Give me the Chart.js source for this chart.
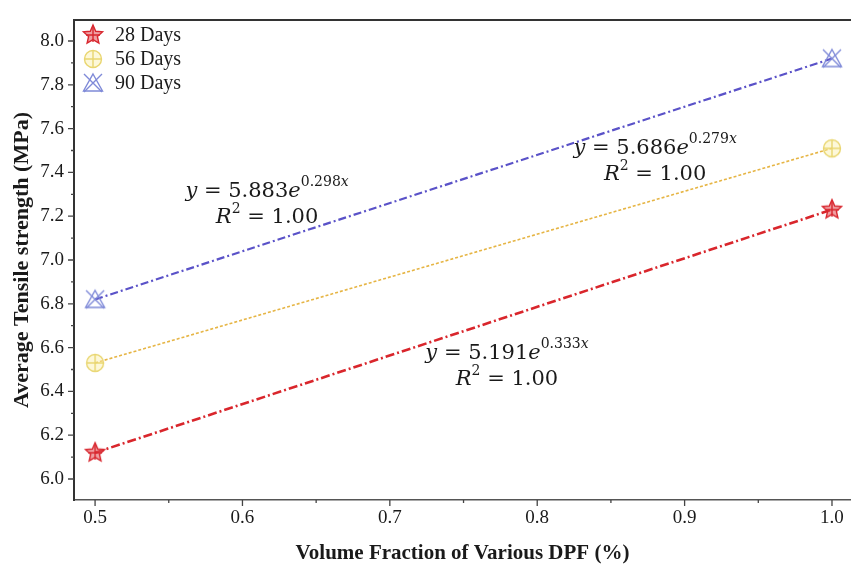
<!DOCTYPE html>
<html>
<head>
<meta charset="utf-8">
<script src="https://cdn.jsdelivr.net/npm/chart.js@4/dist/chart.umd.min.js"></script>
<style>
  html, body { margin: 0; padding: 0; background: #fff; overflow: hidden; }
  #wrap { width: 851px; height: 571px; position: relative; }
</style>
</head>
<body>
<div id="wrap"><canvas id="tensile-chart"></canvas></div>
<script>
// Volume fraction of DPF (x) and average tensile strength (MPa) per curing age
const fractions = [0.5, 1.0];
const days28 = [6.12, 7.23];
const days56 = [6.53, 7.51];
const days90 = [6.82, 7.92];

const seriesNames = ['28 Days', '56 Days', '90 Days'];
const xTickValues = [0.5, 0.6, 0.7, 0.8, 0.9, 1.0];
const yTickValues = [6.0, 6.2, 6.4, 6.6, 6.8, 7.0, 7.2, 7.4, 7.6, 7.8, 8.0];

// Exponential fit per series: coefficient, exponent, R²
const fitCoef = ['5.191', '5.686', '5.883'];
const fitExp = ['0.333', '0.279', '0.298'];
const fitR2 = ['1.00', '1.00', '1.00'];

const SERIF = '"Liberation Serif", "Times New Roman", serif';
const MATH = '"DejaVu Serif", serif';

// Marker glyphs drawn once into small canvases
function makeMarker(kind) {
  const s = 24, c = document.createElement('canvas');
  c.width = s; c.height = s;
  const g = c.getContext('2d');
  const m = s / 2;
  g.lineWidth = 1.4;
  if (kind === 'star') {
    g.strokeStyle = '#d8262e';
    g.fillStyle = 'rgba(226, 80, 86, 0.55)';
    g.beginPath();
    for (let i = 0; i < 10; i++) {
      const r = i % 2 === 0 ? 10 : 4.6;
      const a = -Math.PI / 2 + i * Math.PI / 5;
      g.lineTo(m + r * Math.cos(a), m + r * Math.sin(a));
    }
    g.closePath();
    g.fill(); g.stroke();
    g.beginPath();
    g.moveTo(m - 7, m); g.lineTo(m + 7, m);
    g.moveTo(m, m - 8); g.lineTo(m, m + 7);
    g.stroke();
  } else if (kind === 'circle') {
    g.strokeStyle = '#e9d670';
    g.fillStyle = 'rgba(250, 240, 170, 0.45)';
    g.beginPath(); g.arc(m, m, 8.5, 0, Math.PI * 2); g.fill(); g.stroke();
    g.beginPath();
    g.moveTo(m - 8.5, m); g.lineTo(m + 8.5, m);
    g.moveTo(m, m - 8.5); g.lineTo(m, m + 8.5);
    g.stroke();
  } else {
    g.strokeStyle = '#7f8ad8';
    g.beginPath();
    g.moveTo(m, m - 9); g.lineTo(m + 9.5, m + 8); g.lineTo(m - 9.5, m + 8); g.closePath();
    g.stroke();
    g.beginPath();
    g.moveTo(m - 9, m - 9); g.lineTo(m + 9, m + 9);
    g.moveTo(m + 9, m - 9); g.lineTo(m - 9, m + 9);
    g.stroke();
  }
  return c;
}
const markers = [makeMarker('star'), makeMarker('circle'), makeMarker('triangle')];

const lineColors = ['#d9262c', '#e6b545', '#5a52c8'];
const lineDashes = [[9, 3, 2, 3], [3, 2], [8, 3, 2, 3]];
const lineWidths = [2.6, 1.6, 2.2];

const dataSets = [days28, days56, days90].map((vals, i) => ({
  label: seriesNames[i],
  data: fractions.map((x, j) => ({ x, y: vals[j] })),
  borderColor: lineColors[i],
  borderDash: lineDashes[i],
  borderWidth: lineWidths[i],
  pointStyle: markers[i],
  pointRadius: 10,
  tension: 0,
  fill: false,
  clip: false
}));

// Where each equation block sits (data units, centre of first line)
const eqX = [0.7795, 0.880, 0.6167];
const eqY = [6.571, 7.507, 7.311];

function drawEquation(ctx, cx, cy, coef, exp, r2) {
  const big = '21px ' + MATH, bigI = 'italic 21px ' + MATH;
  const sup = '14px ' + MATH, supI = 'italic 14px ' + MATH;
  const line1 = [[bigI, 'y', 0], [big, ' = ' + coef, 0], [bigI, 'e', 0], [sup, exp, -10], [supI, 'x', -10]];
  const line2 = [[bigI, 'R', 0], [sup, '2', -9], [big, ' = ' + r2, 0]];
  const drawLine = (parts, midY) => {
    let w = 0;
    parts.forEach(p => { ctx.font = p[0]; w += ctx.measureText(p[1]).width; });
    let x = cx - w / 2;
    parts.forEach(p => {
      ctx.font = p[0];
      ctx.fillText(p[1], x, midY + p[2]);
      x += ctx.measureText(p[1]).width;
    });
  };
  ctx.fillStyle = '#1a1a1a';
  ctx.textBaseline = 'middle';
  ctx.textAlign = 'left';
  drawLine(line1, cy);
  drawLine(line2, cy + 26);
}

const decorations = {
  id: 'decorations',
  afterDraw(chart) {
    const { ctx, chartArea: a, scales } = chart;
    const xs = scales.x, ys = scales.y;
    ctx.save();
    // top frame line
    ctx.strokeStyle = '#333';
    ctx.lineWidth = 2;
    ctx.beginPath(); ctx.moveTo(a.left, a.top); ctx.lineTo(chart.width, a.top); ctx.stroke();

    // major and minor tick marks
    ctx.lineWidth = 1.3;
    ctx.strokeStyle = '#444';
    ctx.beginPath();
    yTickValues.forEach((v, i) => {
      const py = ys.getPixelForValue(v);
      ctx.moveTo(a.left - 6, py); ctx.lineTo(a.left, py);
      if (i < yTickValues.length - 1) {
        const pm = ys.getPixelForValue((v + yTickValues[i + 1]) / 2);
        ctx.moveTo(a.left - 3, pm); ctx.lineTo(a.left, pm);
      }
    });
    xTickValues.forEach((v, i) => {
      const px = xs.getPixelForValue(v);
      ctx.moveTo(px, a.bottom); ctx.lineTo(px, a.bottom + 6);
      if (i < xTickValues.length - 1) {
        const pm = xs.getPixelForValue((v + xTickValues[i + 1]) / 2);
        ctx.moveTo(pm, a.bottom); ctx.lineTo(pm, a.bottom + 3);
      }
    });
    ctx.stroke();

    // legend
    ctx.font = '20px ' + SERIF;
    ctx.fillStyle = '#1a1a1a';
    ctx.textBaseline = 'middle';
    ctx.textAlign = 'left';
    seriesNames.forEach((name, i) => {
      const ly = a.top + 15 + i * 24;
      ctx.drawImage(markers[i], a.left + 7, ly - 12, 24, 24);
      ctx.fillText(name, a.left + 41, ly + 1);
    });

    // fit equations
    eqX.forEach((ex, i) => {
      drawEquation(ctx, xs.getPixelForValue(ex), ys.getPixelForValue(eqY[i]), fitCoef[i], fitExp[i], fitR2[i]);
    });
    ctx.restore();
  }
};

new Chart(document.getElementById('tensile-chart'), {
  type: 'line',
  data: { datasets: dataSets },
  options: {
    responsive: true,
    maintainAspectRatio: false,
    animation: false,
    layout: { autoPadding: false, padding: { top: 20, right: 0, left: 0, bottom: 0 } },
    plugins: { legend: { display: false }, tooltip: { enabled: false } },
    scales: {
      x: {
        type: 'linear',
        min: 0.4857,
        max: 1.0129,
        afterFit: (s) => { s.height = 71; s.paddingLeft = 0; s.paddingRight = 0; },
        afterBuildTicks: (s) => { s.ticks = xTickValues.map(v => ({ value: v })); },
        ticks: {
          color: '#1a1a1a',
          font: { family: SERIF, size: 19 },
          padding: 7,
          callback: (v) => Number(v).toFixed(1)
        },
        grid: { display: false, drawTicks: false },
        border: { display: true, color: '#555', width: 1.6 },
        title: {
          display: true,
          text: 'Volume Fraction of Various DPF (%)',
          color: '#1a1a1a',
          font: { family: SERIF, size: 21, weight: 'bold' },
          padding: 5
        }
      },
      y: {
        type: 'linear',
        min: 5.904,
        max: 8.096,
        afterFit: (s) => { s.width = 74; s.paddingTop = 0; s.paddingBottom = 0; },
        afterBuildTicks: (s) => { s.ticks = yTickValues.map(v => ({ value: v })); },
        ticks: {
          color: '#1a1a1a',
          font: { family: SERIF, size: 19 },
          padding: 10,
          callback: (v) => Number(v).toFixed(1)
        },
        grid: { display: false, drawTicks: false },
        border: { display: true, color: '#333', width: 2 },
        title: {
          display: true,
          text: 'Average Tensile strength (MPa)',
          color: '#1a1a1a',
          font: { family: SERIF, size: 22, weight: 'bold' },
          padding: 9
        }
      }
    }
  },
  plugins: [decorations]
});
</script>
</body>
</html>
